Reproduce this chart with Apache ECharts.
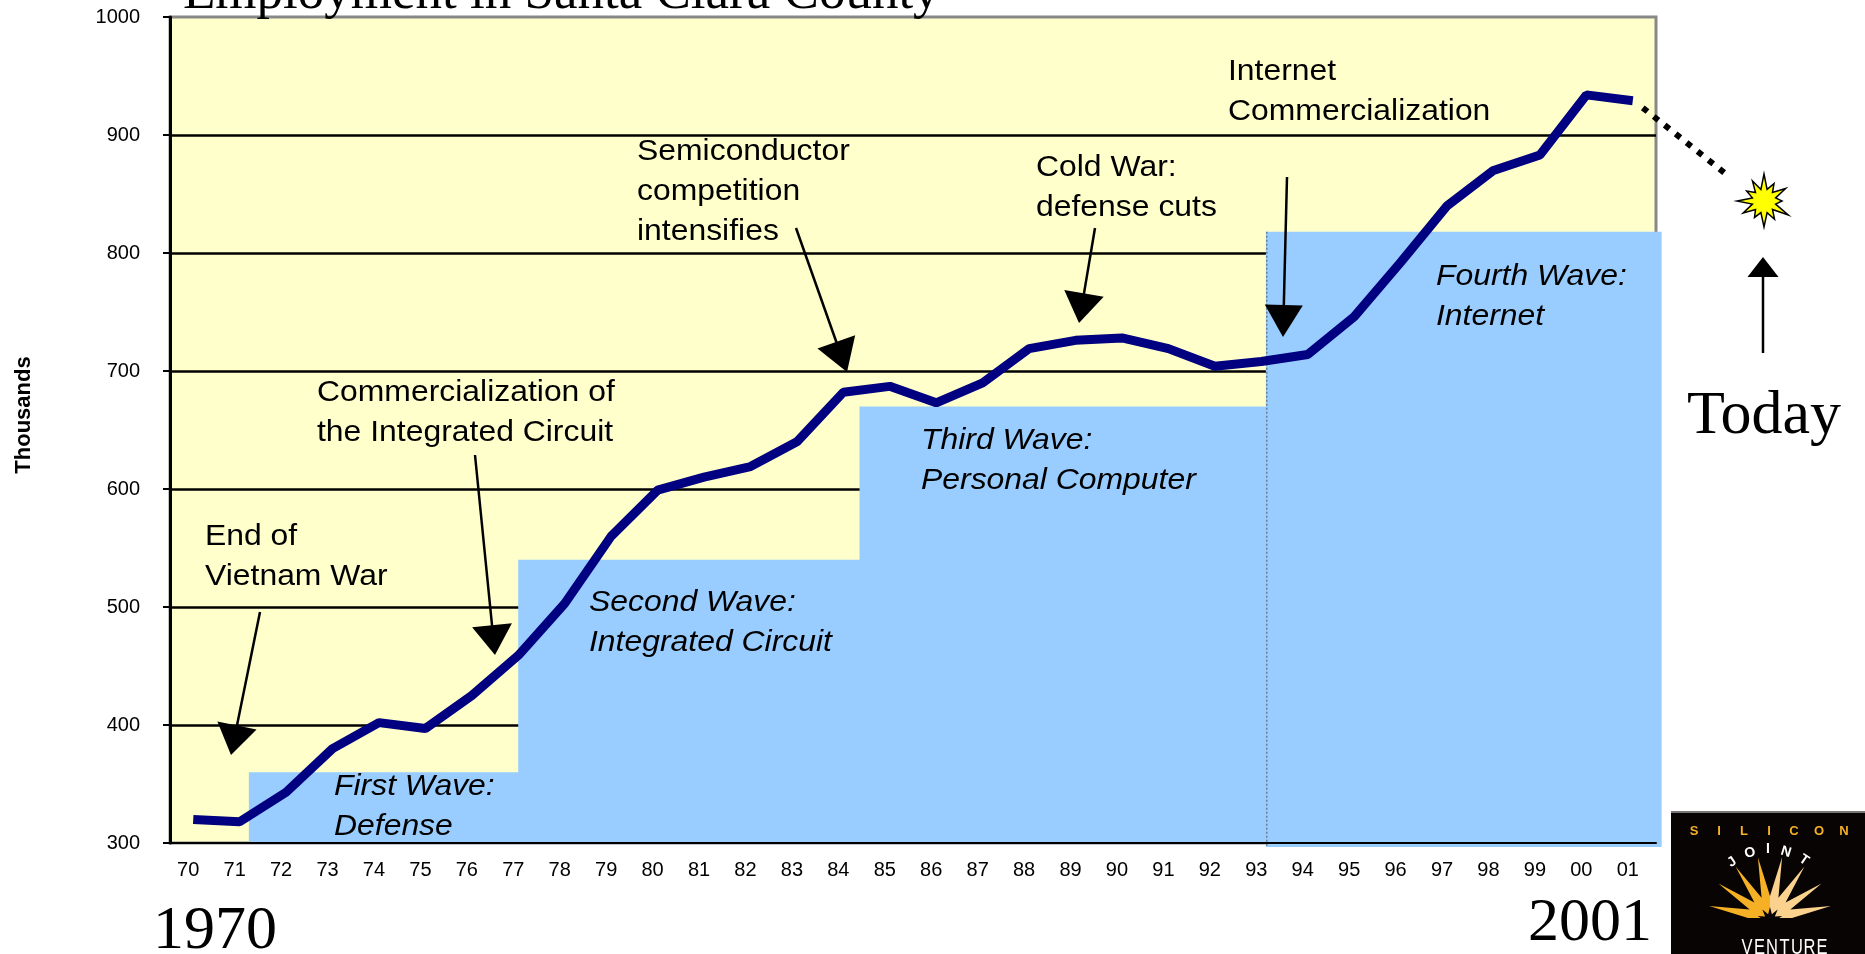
<!DOCTYPE html>
<html>
<head>
<meta charset="utf-8">
<title>Employment in Santa Clara County</title>
<script src="https://cdn.jsdelivr.net/npm/echarts@6.0.0/dist/echarts.min.js"></script>
<style>
  html, body { margin: 0; padding: 0; background: #fff; }
  #chart { width: 1865px; height: 954px; }
</style>
</head>
<body>
<div id="chart"></div>
<script type="text/javascript">
// years on the category axis
var years = ['70', '71', '72', '73', '74', '75', '76', '77', '78', '79',
             '80', '81', '82', '83', '84', '85', '86', '87', '88', '89',
             '90', '91', '92', '93', '94', '95', '96', '97', '98', '99',
             '00', '01'];
// employment, thousands
var employment = [320, 318, 343, 380, 402, 397, 425, 459, 503, 560,
                  599, 610, 619, 640, 682, 687, 673, 690, 719, 726,
                  728, 719, 704, 708, 714, 746, 792, 840, 870, 883,
                  934, 929];
// the four waves: start / end in category units (0 = left edge of '70'), top value
var waveNames = ['First Wave:\nDefense', 'Second Wave:\nIntegrated Circuit',
                 'Third Wave:\nPersonal Computer', 'Fourth Wave:\nInternet'];
var waveStart = [1.72, 7.52, 14.87, 23.62];
var waveEnd = [7.52, 14.87, 23.62, 32.1];
var waveTop = [360, 540, 670, 818];
var yTicks = [300, 400, 500, 600, 700, 800, 900, 1000];

var chart = echarts.init(document.getElementById('chart'));

var waveData = [];
for (var i = 0; i < waveStart.length; i++) {
  waveData.push([waveStart[i], waveEnd[i], waveTop[i]]);
}

var option = {
  animation: false,
  backgroundColor: '#ffffff',
  grid: {
    left: 170, top: 17, width: 1486, height: 826,
    show: true,
    backgroundColor: '#ffffcc',
    borderColor: '#888888',
    borderWidth: 3
  },
  xAxis: [{
    type: 'category',
    data: years,
    z: 5,
    axisLine: { lineStyle: { color: '#000', width: 2 } },
    axisTick: { length: 7, lineStyle: { color: '#000', width: 2 } },
    axisLabel: {
      color: '#000', fontSize: 20, margin: 17,
      fontFamily: 'Liberation Sans, Arial, sans-serif',
      padding: [0, 10, 0, 0],
      interval: 0
    },
    splitLine: { show: false }
  }, {
    type: 'value',
    min: 0, max: 32,
    show: false
  }],
  yAxis: {
    type: 'value',
    min: yTicks[0], max: yTicks[yTicks.length - 1], interval: 100,
    axisLine: { show: true, lineStyle: { color: '#000', width: 3 } },
    axisTick: { show: true, length: 7, lineStyle: { color: '#000', width: 2 } },
    axisLabel: {
      color: '#000', fontSize: 20, margin: 30,
      fontFamily: 'Liberation Sans, Arial, sans-serif',
      formatter: function (v) { return String(v); }
    },
    splitLine: {
      show: true, showMaxLine: false, showMinLine: false,
      lineStyle: { color: '#000', width: 2.5 }
    }
  },
  series: [{
    // blue wave blocks
    type: 'custom',
    xAxisIndex: 1,
    yAxisIndex: 0,
    clip: false,
    z: 2,
    encode: { x: [0, 1], y: 2 },
    data: waveData,
    renderItem: function (params, api) {
      var p1 = api.coord([api.value(0), api.value(2)]);
      var p2 = api.coord([api.value(1), yTicks[0]]);
      var kids = [{
        type: 'rect',
        shape: { x: p1[0] - 1, y: p1[1], width: p2[0] - p1[0] + 2, height: p2[1] - p1[1] + (params.dataIndex === 3 ? 4 : 0) },
        style: { fill: '#99ccff' }
      }];
      if (params.dataIndex === 3) {
        kids.push({
          type: 'line',
          shape: { x1: p1[0], y1: p1[1], x2: p1[0], y2: p2[1] + 4 },
          style: { stroke: '#555', lineWidth: 1, lineDash: [2, 2] }
        });
      }
      return { type: 'group', children: kids };
    }
  }, {
    name: 'Employment',
    type: 'line',
    xAxisIndex: 0,
    yAxisIndex: 0,
    z: 4,
    data: employment,
    symbol: 'none',
    lineStyle: { color: '#000080', width: 9, cap: 'butt' }
  }]
};

chart.setOption(option);

// ---- annotations ----
var sans = 'Liberation Sans, Arial, sans-serif';
var serif = 'Liberation Serif, Times New Roman, serif';

function note(text, x, y, italic) {
  return {
    type: 'text', x: x, y: y, scaleX: 1.1, z: 10,
    style: {
      text: text, fill: '#000', font: (italic ? 'italic ' : '') + '29px ' + sans,
      lineHeight: 40, verticalAlign: 'top', align: 'left'
    }
  };
}

function arrow(x1, y1, x2, y2, hl, hw) {
  var dx = x2 - x1, dy = y2 - y1;
  var len = Math.sqrt(dx * dx + dy * dy);
  var ux = dx / len, uy = dy / len;
  var bx = x2 - ux * hl, by = y2 - uy * hl;
  return [{
    type: 'line', z: 10,
    shape: { x1: x1, y1: y1, x2: bx + ux * 2, y2: by + uy * 2 },
    style: { stroke: '#000', lineWidth: 2.5 }
  }, {
    type: 'polygon', z: 10,
    shape: { points: [[x2, y2], [bx - uy * hw / 2, by + ux * hw / 2], [bx + uy * hw / 2, by - ux * hw / 2]] },
    style: { fill: '#000' }
  }];
}

var g = [];
g.push({
  type: 'text', x: 183, y: -6, z: 10,
  style: { text: 'Employment in Santa Clara County', fill: '#000', font: '53px ' + serif, verticalAlign: 'middle' }
});
g.push({
  type: 'text', x: 24, y: 415, rotation: Math.PI / 2, z: 10,
  style: { text: 'Thousands', fill: '#000', font: 'bold 22px ' + sans, align: 'center', verticalAlign: 'middle' }
});

g.push(note('Semiconductor\ncompetition\nintensifies', 637, 132));
g.push(note('Commercialization of\nthe Integrated Circuit', 317, 373));
g.push(note('End of\nVietnam War', 205, 517));
g.push(note('Cold War:\ndefense cuts', 1036, 148));
g.push(note('Internet\nCommercialization', 1228, 52));

var wavePos = [[334, 767], [589, 583], [921, 421], [1436, 257]];
for (var w = 0; w < waveNames.length; w++) {
  g.push(note(waveNames[w], wavePos[w][0], wavePos[w][1], true));
}

g = g.concat(arrow(260, 612, 231, 755, 30, 40));
g = g.concat(arrow(475, 455, 495, 655, 30, 40));
g = g.concat(arrow(796, 228, 847, 372, 32, 40));
g = g.concat(arrow(1095, 228, 1079, 323, 30, 40));
g = g.concat(arrow(1287, 177, 1283, 337, 32, 38));
g = g.concat(arrow(1763, 353, 1763, 257, 20, 31));

g.push({
  type: 'text', x: 1687, y: 417, z: 10,
  style: { text: 'Today', fill: '#000', font: '62px ' + serif, verticalAlign: 'middle' }
});
g.push({
  type: 'text', x: 153, y: 932, z: 10,
  style: { text: '1970', fill: '#000', font: '62px ' + serif, verticalAlign: 'middle' }
});
g.push({
  type: 'text', x: 1528, y: 924, z: 10,
  style: { text: '2001', fill: '#000', font: '62px ' + serif, verticalAlign: 'middle' }
});

// dotted projection from the last point to the star
var last = chart.convertToPixel({ xAxisIndex: 0, yAxisIndex: 0 }, [years[years.length - 1], employment[employment.length - 1]]);
g.push({
  type: 'line', z: 10,
  shape: { x1: last[0] + 10, y1: last[1] + 7, x2: 1726, y2: 174 },
  style: { stroke: '#000', lineWidth: 6, lineDash: [6, 8] }
});

// star burst
var starR = [27, 20, 25, 18, 28, 21, 26, 19, 24, 27, 20, 23];
var starPts = [];
for (var k = 0; k < starR.length; k++) {
  var a1 = (k / starR.length) * Math.PI * 2 - Math.PI / 2;
  var a2 = ((k + 0.5) / starR.length) * Math.PI * 2 - Math.PI / 2;
  starPts.push([1764 + Math.cos(a1) * starR[k], 201 + Math.sin(a1) * starR[k]]);
  starPts.push([1764 + Math.cos(a2) * 12, 201 + Math.sin(a2) * 12]);
}
g.push({
  type: 'polygon', z: 10,
  shape: { points: starPts },
  style: { fill: '#ffff00', stroke: '#000', lineWidth: 1.5 }
});

// logo
g.push({ type: 'rect', z: 10, shape: { x: 1671, y: 812, width: 194, height: 142 }, style: { fill: '#080404' } });
g.push({ type: 'line', z: 10, shape: { x1: 1671, y1: 812, x2: 1865, y2: 812 }, style: { stroke: '#777', lineWidth: 2 } });
var sil = 'SILICON';
for (var s = 0; s < sil.length; s++) {
  g.push({
    type: 'text', z: 11, x: 1694 + s * 25, y: 831,
    style: { text: sil[s], fill: '#f6b025', font: 'bold 13px ' + sans, align: 'center', verticalAlign: 'middle' }
  });
}
var joint = 'JOINT';
var jointPos = [[1732, 862], [1750, 853], [1768, 849], [1786, 852], [1804, 860]];
for (var j = 0; j < joint.length; j++) {
  g.push({
    type: 'text', z: 11, x: jointPos[j][0], y: jointPos[j][1], rotation: (2 - j) * 0.3,
    style: { text: joint[j], fill: '#fff', font: 'bold 14px ' + sans, align: 'center', verticalAlign: 'middle' }
  });
}
function burst(from, to, n, cx, cy, ro, ri) {
  var pts = [[cx, cy]];
  for (var q = 0; q <= n * 2; q++) {
    var ang = from + (to - from) * q / (n * 2);
    var r = (q % 2 === 1) ? ro : ri;
    pts.push([cx + Math.cos(ang) * r, cy - Math.sin(ang) * r]);
  }
  return pts;
}
g.push({ type: 'polygon', z: 11, shape: { points: burst(Math.PI, Math.PI / 2, 4, 1770, 918, 62, 22) }, style: { fill: '#f6b025' } });
g.push({ type: 'polygon', z: 11, shape: { points: burst(Math.PI / 2, 0, 4, 1770, 918, 62, 22) }, style: { fill: '#fad28e' } });
g.push({ type: 'polygon', z: 12, shape: { points: burst(Math.PI, 0, 5, 1770, 920, 13, 6) }, style: { fill: '#080404' } });
var vent = 'VENTURE';
for (var v = 0; v < vent.length; v++) {
  g.push({
    type: 'text', z: 11, x: 1747 + v * 12.5, y: 937, scaleX: 0.75,
    style: { text: vent[v], fill: '#fff', font: '22px ' + sans, align: 'center', verticalAlign: 'top' }
  });
}

chart.setOption({ graphic: g });
</script>
</body>
</html>
